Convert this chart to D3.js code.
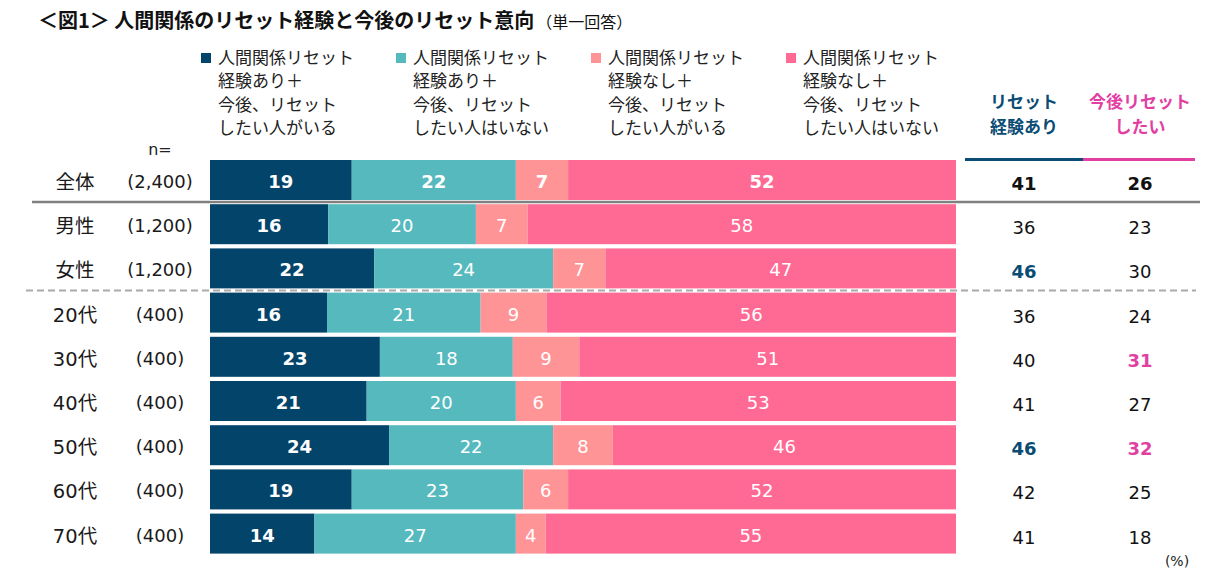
<!DOCTYPE html>
<html><head><meta charset="utf-8">
<script src="https://cdn.jsdelivr.net/npm/d3@7"></script>
<style>
body{margin:0;background:#fff;}
svg{display:block;}
</style></head>
<body>
<svg id="chart" width="1210" height="584"></svg>
<script>
const categories = ["全体","男性","女性","20代","30代","40代","50代","60代","70代"];
const sampleSizes = ["(2,400)","(1,200)","(1,200)","(400)","(400)","(400)","(400)","(400)","(400)"];
const seriesNames = ["人間関係リセット\n経験あり＋\n今後、リセット\nしたい人がいる",
                     "人間関係リセット\n経験あり＋\n今後、リセット\nしたい人はいない",
                     "人間関係リセット\n経験なし＋\n今後、リセット\nしたい人がいる",
                     "人間関係リセット\n経験なし＋\n今後、リセット\nしたい人はいない"];
const expWant   = [19,16,22,16,23,21,24,19,14];
const expNoWant = [22,20,24,21,18,20,22,23,27];
const noExpWant = [7,7,7,9,9,6,8,6,4];
const noExpNoWant=[52,58,47,56,51,53,46,52,55];
const resetExperienced = [41,36,46,36,40,41,46,42,41];
const resetWanted      = [26,23,30,24,31,27,32,25,18];
const highlightExp  = [false,false,true,false,false,false,true,false,false];
const highlightWant = [false,false,false,false,true,false,true,false,false];
const colHeaders = [["リセット","経験あり"],["今後リセット","したい"]];

const colors = ["#03446A","#55B9BE","#FF9497","#FF6A94"];
const colColors = ["#0B4C74","#E23FA3"];
const JP = "'Noto Sans CJK JP','Noto Sans',sans-serif";
const NUM = "'DejaVu Sans','Noto Sans CJK JP',sans-serif";

const svg = d3.select("#chart");
const keys = ["a","b","c","d"];
const rows = categories.map((c,i)=>({cat:c, a:expWant[i], b:expNoWant[i], c:noExpWant[i], d:noExpNoWant[i], idx:i}));
const stacked = d3.stack().keys(keys).offset(d3.stackOffsetExpand)(rows);

const x = d3.scaleLinear().domain([0,1]).range([210,956]);
const y = d3.scaleBand().domain(categories).range([157.9,555.7]).paddingInner(0.095).paddingOuter(0.0475);

// Title
const title = svg.append("text").attr("x",38).attr("y",28).attr("font-family",JP).attr("fill","#111");
title.append("tspan").attr("font-size",20).attr("font-weight","bold").text("＜図1＞ 人間関係のリセット経験と今後のリセット意向");
title.append("tspan").attr("font-size",16).attr("dx",2).text("（単一回答）");

// Legend
const legendX = [201,396,591,786];
seriesNames.forEach((name,i)=>{
  const g = svg.append("g").attr("transform",`translate(${legendX[i]},0)`);
  g.append("rect").attr("x",0).attr("y",53).attr("width",10).attr("height",10).attr("fill",colors[i]);
  const t = g.append("text").attr("font-family",JP).attr("font-size",17).attr("fill","#222");
  name.split("\n").forEach((ln,j)=>{
    t.append("tspan").attr("x",17).attr("y",64+j*23.3).text(ln);
  });
});

// Bars
const layer = svg.append("g").selectAll("g").data(stacked).join("g").attr("fill",(d,i)=>colors[i]);
layer.selectAll("rect").data(d=>d).join("rect")
  .attr("x",d=>x(d[0])).attr("width",d=>x(d[1])-x(d[0]))
  .attr("y",d=>y(d.data.cat)).attr("height",y.bandwidth());

// Bar value labels
stacked.forEach((s,si)=>{
  svg.append("g").selectAll("text").data(s).join("text")
    .attr("x",d=>(x(d[0])+x(d[1]))/2)
    .attr("y",d=>y(d.data.cat)+y.bandwidth()/2+1.5)
    .attr("dy","0.36em")
    .attr("text-anchor","middle")
    .attr("font-family",NUM).attr("font-size",18)
    .attr("font-weight",d=>(si===0||d.data.idx===0)?"bold":"normal")
    .attr("fill","#fff")
    .text(d=>d.data[keys[si]]);
});

// Left labels
svg.append("text").attr("x",160).attr("y",149).attr("dy","0.36em").attr("text-anchor","middle")
  .attr("font-family",NUM).attr("font-size",16).attr("fill","#222").text("n=");
svg.append("g").selectAll("text").data(categories).join("text")
  .attr("x",75).attr("y",d=>y(d)+y.bandwidth()/2+2).attr("dy","0.36em").attr("text-anchor","middle")
  .attr("font-family",NUM).attr("font-size",19.5).attr("fill","#1a1a1a").text(d=>d);
svg.append("g").selectAll("text").data(sampleSizes).join("text")
  .attr("x",160).attr("y",(d,i)=>y(categories[i])+y.bandwidth()/2+1.5).attr("dy","0.36em").attr("text-anchor","middle")
  .attr("font-family",NUM).attr("font-size",18).attr("fill","#1a1a1a").text(d=>d);

// Right columns
const colX = [1024,1140];
colHeaders.forEach((h,i)=>{
  const t = svg.append("text").attr("text-anchor","middle").attr("font-family",JP)
    .attr("font-size",17).attr("font-weight","bold").attr("fill",colColors[i]);
  h.forEach((ln,j)=>t.append("tspan").attr("x",colX[i]).attr("y",108+j*25).text(ln));
});
svg.append("line").attr("x1",965).attr("x2",1083).attr("y1",159.5).attr("y2",159.5).attr("stroke",colColors[0]).attr("stroke-width",3);
svg.append("line").attr("x1",1083).attr("x2",1195).attr("y1",159.5).attr("y2",159.5).attr("stroke",colColors[1]).attr("stroke-width",3);

[resetExperienced,resetWanted].forEach((vals,ci)=>{
  const hl = ci===0?highlightExp:highlightWant;
  svg.append("g").selectAll("text").data(vals).join("text")
    .attr("x",colX[ci]).attr("y",(d,i)=>y(categories[i])+y.bandwidth()/2+3.5).attr("dy","0.36em")
    .attr("text-anchor","middle").attr("font-family",NUM).attr("font-size",18)
    .attr("font-weight",(d,i)=>(i===0||hl[i])?"bold":"normal")
    .attr("fill",(d,i)=>hl[i]?colColors[ci]:"#111")
    .text(d=>d);
});

// Separators
const sepSolid = (y(categories[0])+y.bandwidth()+y(categories[1]))/2;
svg.append("line").attr("x1",32).attr("x2",1200).attr("y1",sepSolid).attr("y2",sepSolid)
  .attr("stroke","#808080").attr("stroke-width",2.5);
const sepDash = (y(categories[2])+y.bandwidth()+y(categories[3]))/2;
svg.append("line").attr("x1",26).attr("x2",1196).attr("y1",sepDash).attr("y2",sepDash)
  .attr("stroke","#AAAAAA").attr("stroke-width",2).attr("stroke-dasharray","7,4");

svg.append("text").attr("x",1177).attr("y",561).attr("dy","0.36em").attr("text-anchor","middle")
  .attr("font-family",NUM).attr("font-size",14).attr("fill","#222").text("(%)");
</script>
</body></html>
